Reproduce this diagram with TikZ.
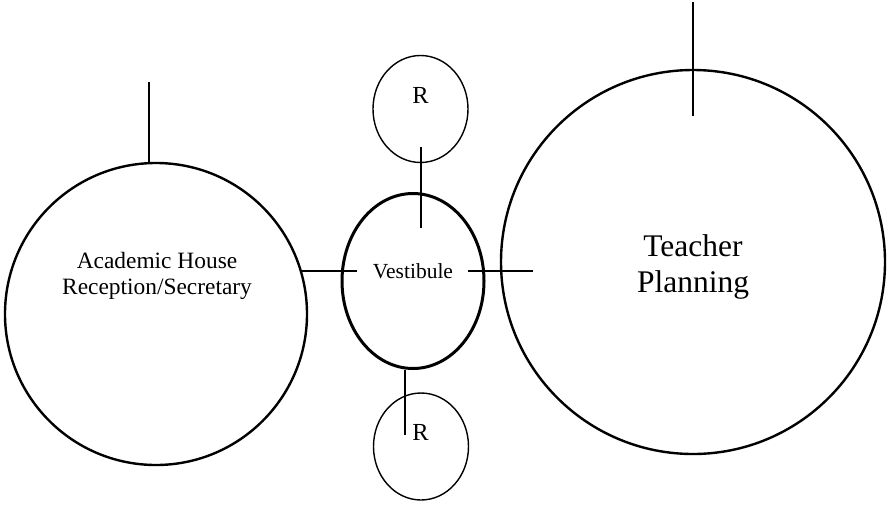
\documentclass[tikz,border=0pt]{standalone}
\usepackage{fontspec}
\setmainfont{Liberation Serif}
\usetikzlibrary{shapes.geometric}

\begin{document}
\begin{tikzpicture}[x=1pt, y=-1pt,
  bigroom/.style={draw, circle, line width=2.4pt, inner sep=0pt},
  smallroom/.style={draw, ellipse, line width=1.4pt, minimum width=95pt, minimum height=107pt, inner sep=0pt},
  wall/.style={line width=1.6pt}]
\useasboundingbox (0,0) rectangle (889,504);

\node[bigroom, minimum size=302pt] (academic) at (156,314) {};
\node[bigroom, minimum size=384pt] (teacher) at (693,262) {};
\node[draw, ellipse, line width=3pt, minimum width=142pt, minimum height=175pt, inner sep=0pt] (vestibule) at (413,281) {};
\node[smallroom] (rtop) at (420.5,109) {};
\node[smallroom] (rbot) at (421,446.5) {};


\node[font=\fontsize{23.4}{26.7}\selectfont, align=center] (academiclabel) at (157,276) {Academic House\\Reception/Secretary};
\node[font=\fontsize{31.5}{36.5}\selectfont, align=center] (teacherlabel) at (693,267) {Teacher\\Planning};
\node[font=\fontsize{21.5}{24}\selectfont, anchor=base] (vestlabel) at (413,278.3) {Vestibule};
\node[font=\fontsize{24.5}{28}\selectfont, anchor=base] (rtoplabel) at (420.5,103.3) {R};
\node[font=\fontsize{24.5}{28}\selectfont, anchor=base] (rbotlabel) at (420.5,440) {R};

\coordinate (academictop) at (149,82);
\coordinate (teachertop) at (693,2);
\coordinate (teacherin) at (693,116);
\coordinate (vestwest) at (357,271);
\coordinate (vesteast) at (468,271);
\coordinate (teacherwest) at (533,271);
\coordinate (rtopin) at (421,147);
\coordinate (vestin) at (421,228);
\coordinate (rbotin) at (405,435);

\draw[wall] (academictop) -- (academictop |- academic.north);
\draw[wall] (teachertop) -- (teacherin);

\draw[wall] (vestwest -| academic.16) -- (vestwest);
\draw[wall] (vesteast) -- (teacherwest);

\draw[wall] (rtopin) -- (vestin);
\draw[wall] (rbotin |- vestibule.south) -- (rbotin);

\end{tikzpicture}
\end{document}
